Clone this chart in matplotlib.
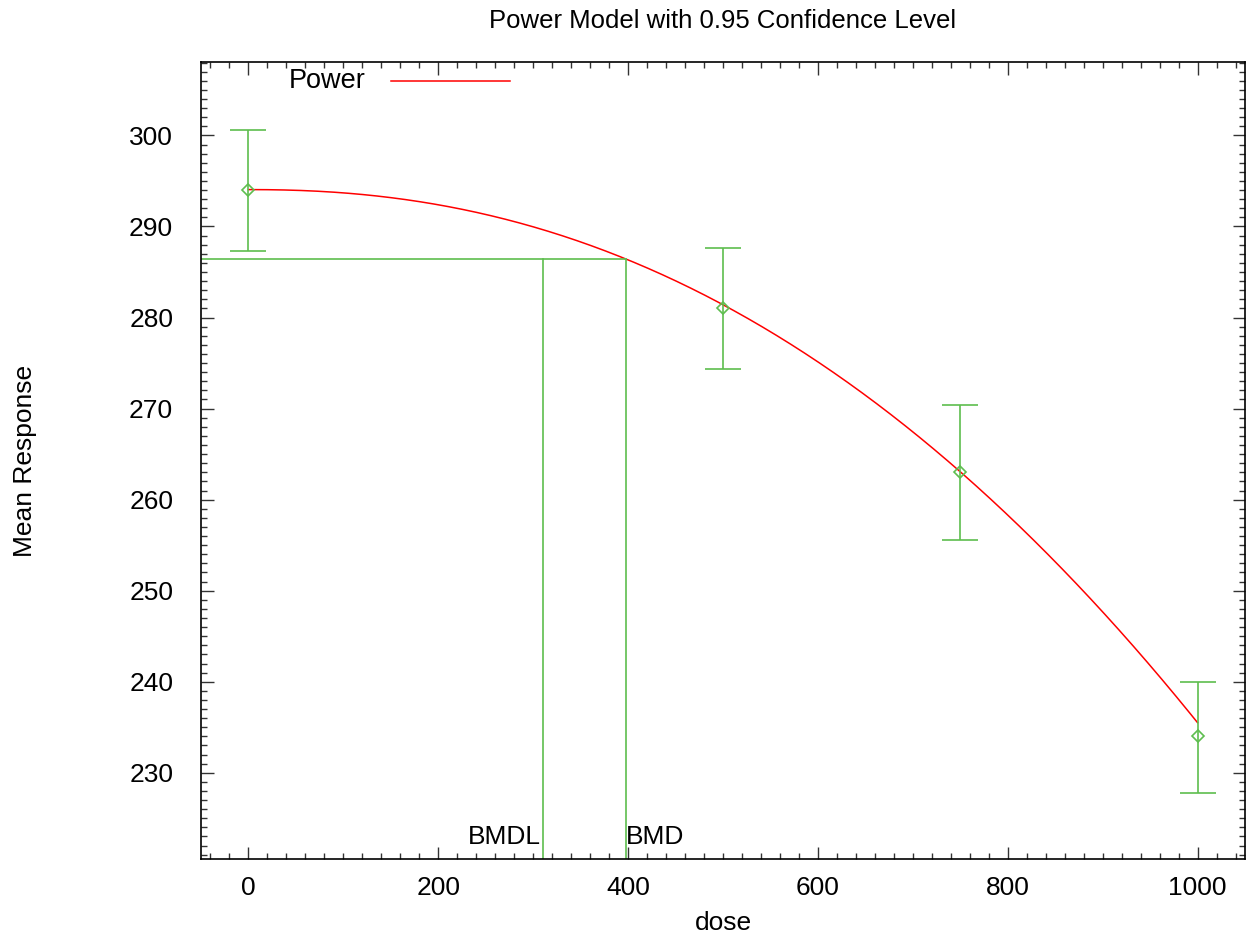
import matplotlib
matplotlib.use("Agg")
import matplotlib.pyplot as plt
import numpy as np
from matplotlib.ticker import MultipleLocator

# Observed data (dose groups)
doses = [0, 500, 750, 1000]
means = [294.0, 281.0, 263.0, 234.0]
lower = [287.35, 274.35, 255.6, 227.8]
upper = [300.65, 287.65, 270.35, 240.0]

# Fitted power model: f(d) = intercept - slope * d^power
intercept = 294.05
slope = 1.363e-5
power = 2.211

# Benchmark dose results
bmd = 397.8
bmdl = 310.6
bmr_response = 286.42

title = "Power Model with 0.95 Confidence Level"
green = "#5EBE4E"
red = "#FF0000"


def plot_results():
    plt.rcParams['font.family'] = ['Liberation Sans', 'DejaVu Sans']
    fig = plt.figure(figsize=(12.46, 9.43), dpi=100)
    ax = fig.add_axes([0.1613, 0.0888, 0.8379, 0.8458])

    xmin, xmax = -50, 1050
    ymin, ymax = 220.5, 308.1

    # Model curve
    d = np.linspace(0, max(doses), 400)
    ax.plot(d, intercept - slope * d ** power, color=red, linewidth=1.1, label='Power')

    # Data points with confidence bars
    m = np.array(means)
    yerr = [m - np.array(lower), np.array(upper) - m]
    ax.errorbar(doses, means, yerr=yerr, fmt='D', markersize=6, markerfacecolor='none',
                markeredgecolor=green, markeredgewidth=1.2, ecolor=green, elinewidth=1.2,
                capsize=13, capthick=1.2)

    # BMD / BMDL lines
    ax.plot([xmin, bmd], [bmr_response, bmr_response], color=green, linewidth=1.2)
    ax.plot([bmdl, bmdl], [ymin, bmr_response], color=green, linewidth=1.2)
    ax.plot([bmd, bmd], [ymin, bmr_response], color=green, linewidth=1.2)
    ax.text(bmdl - 2, ymin + 1.1, 'BMDL', ha='right', va='bottom', fontsize=19)
    ax.text(bmd, ymin + 1.1, 'BMD', ha='left', va='bottom', fontsize=19)

    ax.set_xlim(xmin, xmax)
    ax.set_ylim(ymin, ymax)
    ax.xaxis.set_major_locator(MultipleLocator(200))
    ax.xaxis.set_minor_locator(MultipleLocator(20))
    ax.yaxis.set_major_locator(MultipleLocator(10))
    ax.yaxis.set_minor_locator(MultipleLocator(1))
    ax.tick_params(which='both', direction='in', top=True, right=True, labelsize=19,
                   width=1.0, color='#333333')
    ax.tick_params(axis='y', pad=20)
    ax.tick_params(axis='x', pad=12)
    ax.tick_params(which='major', length=9)
    ax.tick_params(which='minor', length=4)
    for s in ax.spines.values():
        s.set_linewidth(1.2)

    ax.set_xlabel('dose', fontsize=19, labelpad=8)
    ax.set_ylabel('Mean Response', fontsize=19, labelpad=66)
    fig.text(0.58, 0.978, title, ha='center', va='center', fontsize=18.5)

    # Legend in gnuplot style
    ax.text(0.0837, 0.976, 'Power', transform=ax.transAxes, ha='left', va='center', fontsize=19.5)
    ax.plot([0.182, 0.296], [0.976, 0.976], transform=ax.transAxes, color=red, linewidth=1.1)

    fig.savefig('out.png', dpi=100)


if __name__ == "__main__":
    plot_results()
